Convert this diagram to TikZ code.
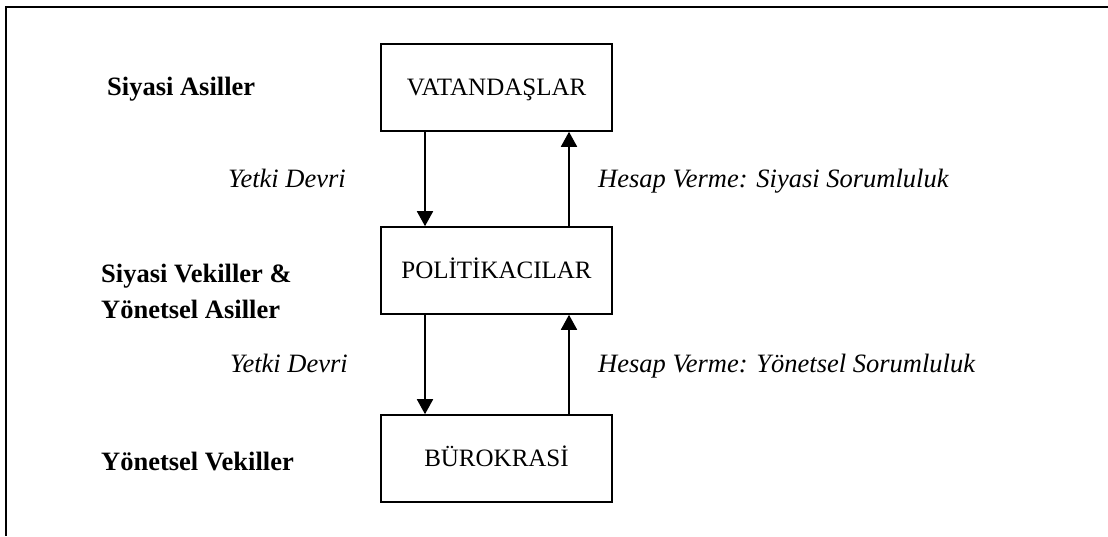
\documentclass[tikz,border=0pt]{standalone}
\usepackage{fontspec}
\setmainfont{Liberation Serif}
\usetikzlibrary{arrows.meta}
\begin{document}
\begin{tikzpicture}[x=1pt,y=-1pt,
  levelbox/.style={draw,line width=1.6pt,minimum width=231pt,minimum height=87pt,inner sep=0pt,
    text height=15pt,text depth=0pt,font=\fontsize{25}{30}\selectfont},
  rolelabel/.style={anchor=base west,inner sep=0pt,font=\fontsize{26.5}{30}\selectfont\bfseries},
  flowlabel/.style={anchor=base west,inner sep=0pt,font=\fontsize{26.5}{30}\selectfont\itshape},
  flow/.style={line width=1.8pt,-{Triangle[width=16pt,length=15pt]}}]
\useasboundingbox (0,0) rectangle (1108,536);
% open frame: top and left edges only
\coordinate (ftl) at (6,7);
\coordinate (ftr) at (1108,7);
\coordinate (fbl) at (6,536);
\draw[line width=1.8pt] (ftr) -- (ftl) -- (fbl);
% the three levels
\node[levelbox] (v) at (496.5,87.5) {VATANDAŞLAR};
\node[levelbox] (p) at (496.5,270.5) {POLİTİKACILAR};
\node[levelbox] (b) at (496.5,458.5) {BÜROKRASİ};
% columns for the downward and upward flows
\coordinate (xl) at (425,0);
\coordinate (xr) at (569,0);
\draw[flow] (v.south -| xl) -- (p.north -| xl);
\draw[flow] (p.north -| xr) -- (v.south -| xr);
\draw[flow] (p.south -| xl) -- (b.north -| xl);
\draw[flow] (b.north -| xr) -- (p.south -| xr);
% role labels on the left
\node[rolelabel] (r1) at (107,95) {Siyasi Asiller};
\node[rolelabel] (r2) at (101,282) {Siyasi Vekiller \&};
\node[rolelabel] (r3) at (101,318) {Yönetsel Asiller};
\node[rolelabel] (r4) at (101,470) {Yönetsel Vekiller};
% flow labels
\node[flowlabel] (l1) at (228,187) {Yetki Devri};
\node[flowlabel] (l2) at (230,372) {Yetki Devri};
\node[flowlabel] (h1) at (598,187) {Hesap Verme: Siyasi Sorumluluk};
\node[flowlabel] (h2) at (598,372) {Hesap Verme: Yönetsel Sorumluluk};
\end{tikzpicture}
\end{document}
